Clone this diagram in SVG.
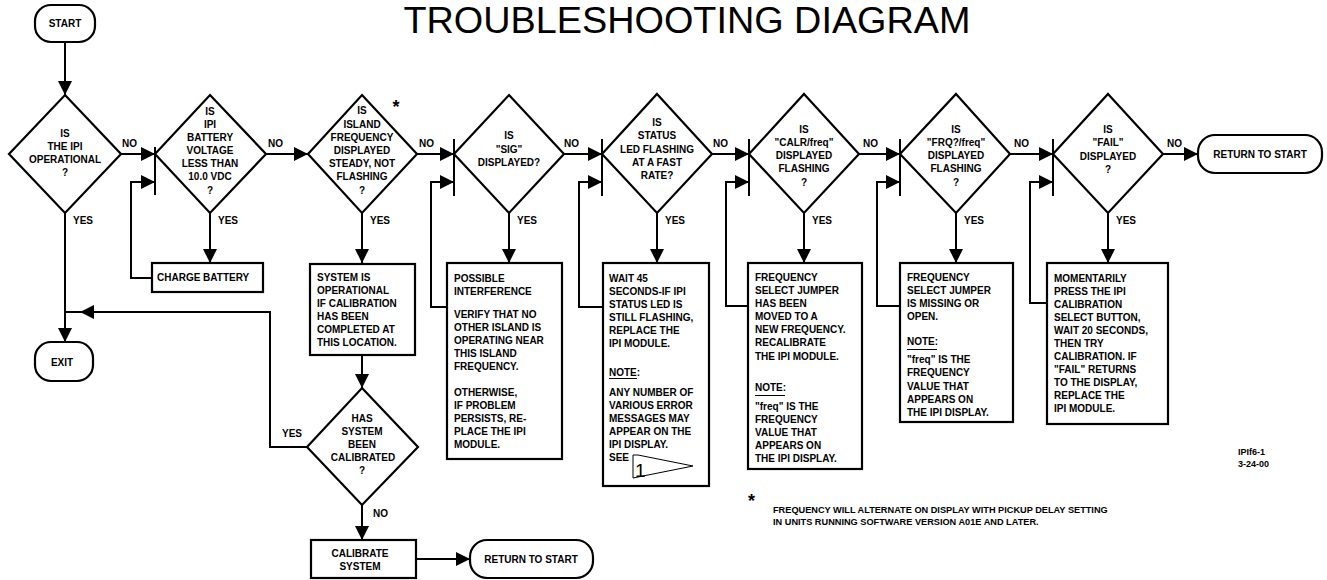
<svg xmlns="http://www.w3.org/2000/svg" width="1327" height="580" viewBox="0 0 1327 580">
<style>
.ln{fill:none;stroke:#000;stroke-width:2}
.sh{fill:#fff;stroke:#000;stroke-width:2.2}
.thin{fill:#fff;stroke:#000;stroke-width:1}
text{font-family:"Liberation Sans",Arial,Helvetica,sans-serif;font-weight:bold;font-size:10px;fill:#000}
.c{text-anchor:middle}
.title{font-size:37.8px;font-weight:normal}
.sm{font-size:9px}
.fn{font-size:9.2px}
.ast{font-size:18px}
.one{font-size:19px;font-weight:normal}
</style>
<defs>
<marker id="ah" viewBox="0 0 14 14" refX="14" refY="7" markerWidth="14" markerHeight="14" markerUnits="userSpaceOnUse" orient="auto">
<path d="M0,0 L14,7 L0,14 z" fill="#000"/>
</marker>
</defs>
<rect width="1327" height="580" fill="#fff"/>
<text class="title c" x="687" y="33">TROUBLESHOOTING DIAGRAM</text>

<g id="connectors">
<path class="ln" d="M65,42 V95" marker-end="url(#ah)"/>
<path class="ln" d="M65,213 V342" marker-end="url(#ah)"/>
<path class="ln" d="M119,154 H155" marker-end="url(#ah)"/>
<path class="ln" d="M155,147 V195"/>
<path class="ln" d="M152,278 H131 V182 H155" marker-end="url(#ah)"/>
<path class="ln" d="M210,213 V263" marker-end="url(#ah)"/>
<path class="ln" d="M266,154 H308" marker-end="url(#ah)"/>
<path class="ln" d="M362,213 V263" marker-end="url(#ah)"/>
<path class="ln" d="M362,355 V388" marker-end="url(#ah)"/>
<path class="ln" d="M307,447 H270 V312 H80" marker-end="url(#ah)"/>
<path class="ln" d="M81,312 H65"/>
<path class="ln" d="M362,505 V540" marker-end="url(#ah)"/>
<path class="ln" d="M416,559 H470" marker-end="url(#ah)"/>
<path class="ln" d="M417,154 H454" marker-end="url(#ah)"/>
<path class="ln" d="M454,139 V196"/>
<path class="ln" d="M447,307 H431 V182 H454" marker-end="url(#ah)"/>
<path class="ln" d="M509,213 V263" marker-end="url(#ah)"/>
<path class="ln" d="M564,154 H602" marker-end="url(#ah)"/>
<path class="ln" d="M602,139 V196"/>
<path class="ln" d="M603,307 H579 V182 H602" marker-end="url(#ah)"/>
<path class="ln" d="M657,213 V263" marker-end="url(#ah)"/>
<path class="ln" d="M712,154 H749" marker-end="url(#ah)"/>
<path class="ln" d="M749,139 V196"/>
<path class="ln" d="M748,306 H726 V182 H749" marker-end="url(#ah)"/>
<path class="ln" d="M804,213 V263" marker-end="url(#ah)"/>
<path class="ln" d="M859,154 H900" marker-end="url(#ah)"/>
<path class="ln" d="M900,139 V196"/>
<path class="ln" d="M900,306 H877 V182 H900" marker-end="url(#ah)"/>
<path class="ln" d="M956,213 V263" marker-end="url(#ah)"/>
<path class="ln" d="M1010,154 H1053" marker-end="url(#ah)"/>
<path class="ln" d="M1053,139 V196"/>
<path class="ln" d="M1047,303 H1030 V182 H1053" marker-end="url(#ah)"/>
<path class="ln" d="M1108,213 V263" marker-end="url(#ah)"/>
<path class="ln" d="M1163,154 H1198" marker-end="url(#ah)"/>
<text x="122" y="147">NO</text>
<text x="268" y="147">NO</text>
<text x="419" y="147">NO</text>
<text x="564" y="147">NO</text>
<text x="713" y="147">NO</text>
<text x="863" y="147">NO</text>
<text x="1014" y="147">NO</text>
<text x="1167" y="147">NO</text>
<text x="73" y="224">YES</text>
<text x="218" y="224">YES</text>
<text x="370" y="224">YES</text>
<text x="517" y="224">YES</text>
<text x="665" y="224">YES</text>
<text x="812" y="224">YES</text>
<text x="964" y="224">YES</text>
<text x="1116" y="224">YES</text>
<text x="282" y="437">YES</text>
<text x="373" y="517">NO</text>
</g>

<g id="start">
<rect class="sh" x="35" y="5" width="60" height="37" rx="16" ry="16"/>
<text class="c" x="65" y="27">START</text>
</g>

<g id="d1">
<polygon class="sh" points="65,95 121,154 65,213 9,154"/>
<text class="c" x="65" y="137">IS</text>
<text class="c" x="65" y="150">THE IPI</text>
<text class="c" x="65" y="163">OPERATIONAL</text>
<text class="c" x="65" y="176">?</text>
</g>

<g id="exit">
<rect class="sh" x="35" y="342" width="58" height="39" rx="16" ry="16"/>
<text class="c" x="62" y="366">EXIT</text>
</g>

<g id="d2">
<polygon class="sh" points="210,95 266,154 210,213 155,154"/>
<text class="c" x="210" y="115">IS</text>
<text class="c" x="210" y="128">IPI</text>
<text class="c" x="210" y="141">BATTERY</text>
<text class="c" x="210" y="154">VOLTAGE</text>
<text class="c" x="210" y="167">LESS THAN</text>
<text class="c" x="210" y="180">10.0 VDC</text>
<text class="c" x="210" y="194">?</text>
</g>

<g id="charge">
<rect class="sh" x="152" y="263" width="111" height="29"/>
<text x="157" y="281">CHARGE BATTERY</text>
</g>

<g id="d3">
<polygon class="sh" points="362,95 417,154 362,213 308,154"/>
<text class="c" x="362" y="114">IS</text>
<text class="c" x="362" y="128">ISLAND</text>
<text class="c" x="362" y="141">FREQUENCY</text>
<text class="c" x="362" y="154">DISPLAYED</text>
<text class="c" x="362" y="167">STEADY, NOT</text>
<text class="c" x="362" y="180">FLASHING</text>
<text class="c" x="362" y="194">?</text>
<text class="c ast" x="396" y="113">*</text>
</g>

<g id="sysop">
<rect class="sh" x="310" y="264" width="105" height="91"/>
<text x="317" y="281">SYSTEM IS</text>
<text x="317" y="294">OPERATIONAL</text>
<text x="317" y="307">IF CALIBRATION</text>
<text x="317" y="320">HAS BEEN</text>
<text x="317" y="333">COMPLETED AT</text>
<text x="317" y="346">THIS LOCATION.</text>
</g>

<g id="d4">
<polygon class="sh" points="362,388 418,447 362,505 307,447"/>
<text class="c" x="362" y="422">HAS</text>
<text class="c" x="362" y="435">SYSTEM</text>
<text class="c" x="362" y="448">BEEN</text>
<text class="c" x="363" y="461">CALIBRATED</text>
<text class="c" x="362" y="474">?</text>
</g>

<g id="calibrate">
<rect class="sh" x="311" y="540" width="105" height="38"/>
<text class="c" x="360" y="557">CALIBRATE</text>
<text class="c" x="360" y="570">SYSTEM</text>
</g>

<g id="return1">
<rect class="sh" x="470" y="540" width="123" height="38" rx="17" ry="17"/>
<text class="c" x="531" y="563">RETURN TO START</text>
</g>

<g id="d5">
<polygon class="sh" points="509,95 564,154 509,213 454,154"/>
<text class="c" x="509" y="139">IS</text>
<text class="c" x="509" y="153">"SIG"</text>
<text class="c" x="509" y="166">DISPLAYED?</text>
</g>

<g id="interference">
<rect class="sh" x="447" y="263" width="115" height="196"/>
<text x="454" y="282">POSSIBLE</text>
<text x="454" y="295">INTERFERENCE</text>
<text x="454" y="318">VERIFY THAT NO</text>
<text x="454" y="331">OTHER ISLAND IS</text>
<text x="454" y="344">OPERATING NEAR</text>
<text x="454" y="357">THIS ISLAND</text>
<text x="454" y="370">FREQUENCY.</text>
<text x="454" y="396">OTHERWISE,</text>
<text x="454" y="409">IF PROBLEM</text>
<text x="454" y="422">PERSISTS, RE-</text>
<text x="454" y="435">PLACE THE IPI</text>
<text x="454" y="448">MODULE.</text>
</g>

<g id="d6">
<polygon class="sh" points="657,94 712,154 657,213 602,154"/>
<text class="c" x="657" y="126">IS</text>
<text class="c" x="657" y="139">STATUS</text>
<text class="c" x="657" y="153">LED FLASHING</text>
<text class="c" x="657" y="166">AT A FAST</text>
<text class="c" x="657" y="179">RATE?</text>
</g>

<g id="wait45">
<rect class="sh" x="603" y="263" width="106" height="223"/>
<text x="609" y="282">WAIT 45</text>
<text x="609" y="295">SECONDS-IF IPI</text>
<text x="609" y="308">STATUS LED IS</text>
<text x="609" y="321">STILL FLASHING,</text>
<text x="609" y="334">REPLACE THE</text>
<text x="609" y="347">IPI MODULE.</text>
<text x="609" y="376">NOTE:</text>
<line x1="609" y1="378.5" x2="637" y2="378.5" stroke="#000" stroke-width="1"/>
<text x="609" y="396">ANY NUMBER OF</text>
<text x="609" y="409">VARIOUS ERROR</text>
<text x="609" y="422">MESSAGES MAY</text>
<text x="609" y="435">APPEAR ON THE</text>
<text x="609" y="448">IPI DISPLAY.</text>
<text x="609" y="461">SEE</text>
<polygon class="thin" points="633,455 638,455 693,466 633,478"/>
<text class="one" x="635" y="477">1</text>
</g>

<g id="d7">
<polygon class="sh" points="804,94 859,154 804,213 749,154"/>
<text class="c" x="804" y="133">IS</text>
<text class="c" x="804" y="146">"CALR/freq"</text>
<text class="c" x="804" y="159">DISPLAYED</text>
<text class="c" x="804" y="172">FLASHING</text>
<text class="c" x="804" y="186">?</text>
</g>

<g id="jumpermoved">
<rect class="sh" x="748" y="263" width="114" height="206"/>
<text x="755" y="281">FREQUENCY</text>
<text x="755" y="294">SELECT JUMPER</text>
<text x="755" y="307">HAS BEEN</text>
<text x="755" y="320">MOVED TO A</text>
<text x="755" y="333">NEW FREQUENCY.</text>
<text x="755" y="346">RECALIBRATE</text>
<text x="755" y="360">THE IPI MODULE.</text>
<text x="755" y="391">NOTE:</text>
<line x1="755" y1="395.5" x2="785" y2="395.5" stroke="#000" stroke-width="1"/>
<text x="755" y="410">"freq" IS THE</text>
<text x="755" y="423">FREQUENCY</text>
<text x="755" y="436">VALUE THAT</text>
<text x="755" y="449">APPEARS ON</text>
<text x="755" y="462">THE IPI DISPLAY.</text>
</g>

<g id="d8">
<polygon class="sh" points="956,94 1010,154 956,213 900,154"/>
<text class="c" x="956" y="133">IS</text>
<text class="c" x="956" y="146">"FRQ?/freq"</text>
<text class="c" x="956" y="159">DISPLAYED</text>
<text class="c" x="956" y="172">FLASHING</text>
<text class="c" x="956" y="186">?</text>
</g>

<g id="jumpermissing">
<rect class="sh" x="900" y="263" width="113" height="159"/>
<text x="907" y="281">FREQUENCY</text>
<text x="907" y="294">SELECT JUMPER</text>
<text x="907" y="307">IS MISSING OR</text>
<text x="907" y="320">OPEN.</text>
<text x="907" y="345">NOTE:</text>
<line x1="907" y1="349.5" x2="937" y2="349.5" stroke="#000" stroke-width="1"/>
<text x="907" y="363">"freq" IS THE</text>
<text x="907" y="376">FREQUENCY</text>
<text x="907" y="390">VALUE THAT</text>
<text x="907" y="403">APPEARS ON</text>
<text x="907" y="416">THE IPI DISPLAY.</text>
</g>

<g id="d9">
<polygon class="sh" points="1108,94 1163,154 1108,213 1053,154"/>
<text class="c" x="1108" y="133">IS</text>
<text class="c" x="1108" y="146">"FAIL"</text>
<text class="c" x="1108" y="160">DISPLAYED</text>
<text class="c" x="1108" y="173">?</text>
</g>

<g id="momentarily">
<rect class="sh" x="1047" y="263" width="121" height="161"/>
<text x="1054" y="282">MOMENTARILY</text>
<text x="1054" y="295">PRESS THE IPI</text>
<text x="1054" y="308">CALIBRATION</text>
<text x="1054" y="321">SELECT BUTTON,</text>
<text x="1054" y="334">WAIT 20 SECONDS,</text>
<text x="1054" y="347">THEN TRY</text>
<text x="1054" y="360">CALIBRATION. IF</text>
<text x="1054" y="373">"FAIL" RETURNS</text>
<text x="1054" y="386">TO THE DISPLAY,</text>
<text x="1054" y="399">REPLACE THE</text>
<text x="1054" y="412">IPI MODULE.</text>
</g>

<g id="return2">
<rect class="sh" x="1198" y="135" width="124" height="38" rx="17" ry="17"/>
<text class="c" x="1260" y="158">RETURN TO START</text>
</g>

<g id="notes">
<text class="sm" x="1238" y="455">IPIf6-1</text>
<text class="sm" x="1238" y="467">3-24-00</text>
<text class="ast" x="748" y="507">*</text>
<text class="fn" x="773" y="513">FREQUENCY WILL ALTERNATE ON DISPLAY WITH PICKUP DELAY SETTING</text>
<text class="fn" x="773" y="525">IN UNITS RUNNING SOFTWARE VERSION A01E AND LATER.</text>
</g>
</svg>
